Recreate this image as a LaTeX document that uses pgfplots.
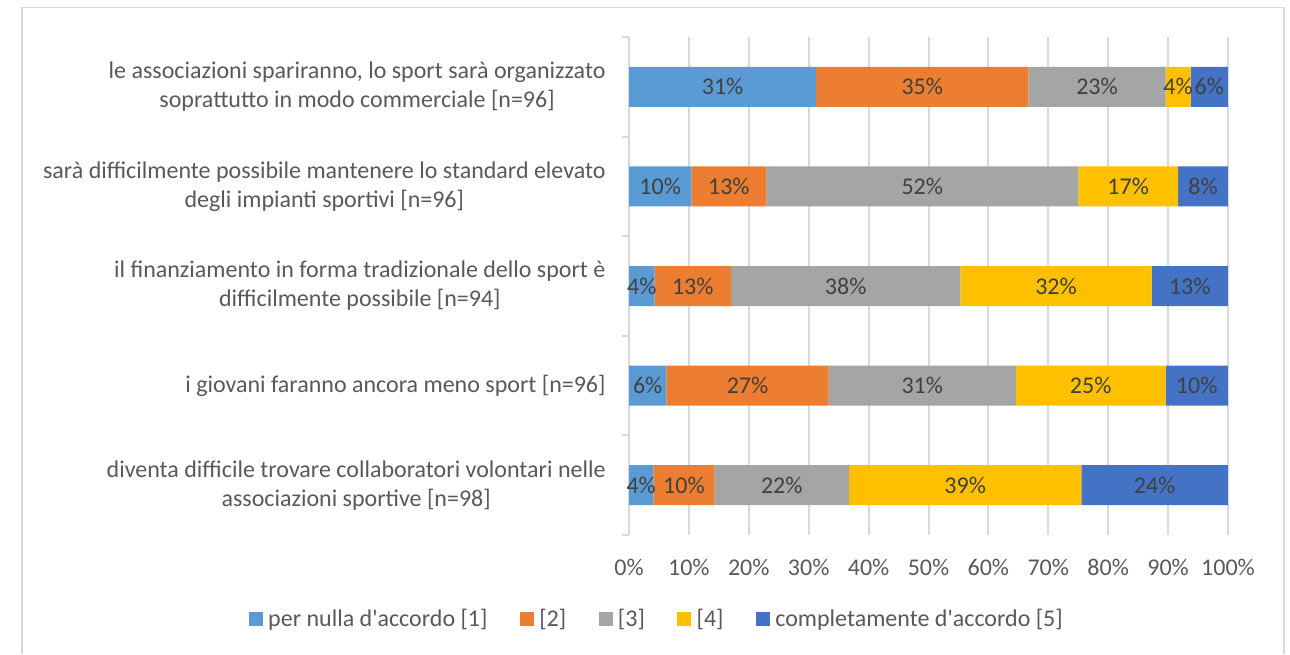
\documentclass[border=0pt]{standalone}
\usepackage{fontspec}
\setmainfont{Carlito}[Ligatures=TeXOff]
\usepackage{pgfplots}
\pgfplotsset{compat=1.18}
\definecolor{c1}{HTML}{5B9BD5}
\definecolor{c2}{HTML}{ED7D31}
\definecolor{c3}{HTML}{A5A5A5}
\definecolor{c4}{HTML}{FFC000}
\definecolor{c5}{HTML}{4472C4}
\definecolor{gridc}{HTML}{D9D9D9}
\definecolor{txt}{HTML}{595959}
\definecolor{lbl}{HTML}{404040}
\begin{document}
\begin{tikzpicture}[font=\fontsize{12pt}{14.5pt}\selectfont]
\useasboundingbox (0,0) rectangle (645pt,327pt);
\draw[gridc, line width=0.8pt] (11pt,0) -- (11pt,323.25pt) -- (642pt,323.25pt) -- (642pt,0);
\begin{axis}[
  at={(314.5pt,59.5pt)}, anchor=south west,
  scale only axis, width=299.5pt, height=249pt,
  xbar stacked, bar width=20pt,
  xmin=0, xmax=100, ymin=0.5, ymax=5.5,
  axis lines*=left,
  x axis line style={draw=none},
  y axis line style={draw=gridc, line width=1pt},
  xtick={0,10,...,100},
  xticklabels={0\%,10\%,20\%,30\%,40\%,50\%,60\%,70\%,80\%,90\%,100\%},
  xmajorgrids, grid style={gridc, line width=1pt},
  ytick={1,2,3,4,5},
  yticklabels={
    {diventa difficile trovare collaboratori volontari nelle\\associazioni sportive [n=98]},
    {i giovani faranno ancora meno sport [n=96]},
    {il finanziamento in forma tradizionale dello sport è\\difficilmente possibile [n=94]},
    {sarà difficilmente possibile mantenere lo standard elevato\\degli impianti sportivi [n=96]},
    {le associazioni spariranno, lo sport sarà organizzato\\soprattutto in modo commerciale [n=96]}},
  minor ytick={0.5,1.5,2.5,3.5,4.5,5.5},
  major tick length=0pt, minor tick length=3.5pt, tick align=outside,
  minor y tick style={draw=gridc, line width=1pt},
  xticklabel style={font=\fontsize{12pt}{14.5pt}\selectfont, text=txt, inner sep=0pt, anchor=north, yshift=-12pt},
  yticklabel style={font=\fontsize{12pt}{14.5pt}\selectfont, text=txt, inner sep=0pt, anchor=east, align=center, xshift=-11.5pt},
  point meta=explicit symbolic,
  nodes near coords={\pgfplotspointmeta\%},
  every node near coord/.append style={text=lbl, font=\fontsize{12pt}{14.5pt}\selectfont, inner sep=0pt},
  legend columns=5,
  legend style={at={(axis description cs:0.0467,-0.1687)}, anchor=center, draw=none,
    font=\fontsize{12pt}{14.5pt}\selectfont, text=txt,
    nodes={inner sep=1.2pt, anchor=west},
    /tikz/every odd column/.append style={column sep=1.5pt},
    /tikz/every even column/.append style={column sep=15pt}},
  legend image code/.code={\fill[#1] (0pt,-3.5pt) rectangle (7pt,3.5pt);},
]
\addplot[fill=c1, draw=none] coordinates {(4.08,1) [4] (6.25,2) [6] (4.26,3) [4] (10.42,4) [10] (31.25,5) [31]};
\addlegendentry{per nulla d'accordo [1]}
\addplot[fill=c2, draw=none] coordinates {(10.20,1) [10] (27.08,2) [27] (12.77,3) [13] (12.50,4) [13] (35.42,5) [35]};
\addlegendentry{\relax[2]}
\addplot[fill=c3, draw=none] coordinates {(22.45,1) [22] (31.25,2) [31] (38.30,3) [38] (52.08,4) [52] (22.92,5) [23]};
\addlegendentry{\relax[3]}
\addplot[fill=c4, draw=none] coordinates {(38.78,1) [39] (25.00,2) [25] (31.91,3) [32] (16.67,4) [17] (4.17,5) [4]};
\addlegendentry{\relax[4]}
\addplot[fill=c5, draw=none] coordinates {(24.48,1) [24] (10.41,2) [10] (12.75,3) [13] (8.32,4) [8] (6.23,5) [6]};
\addlegendentry{completamente d'accordo [5]}
\end{axis}
\end{tikzpicture}
\end{document}
